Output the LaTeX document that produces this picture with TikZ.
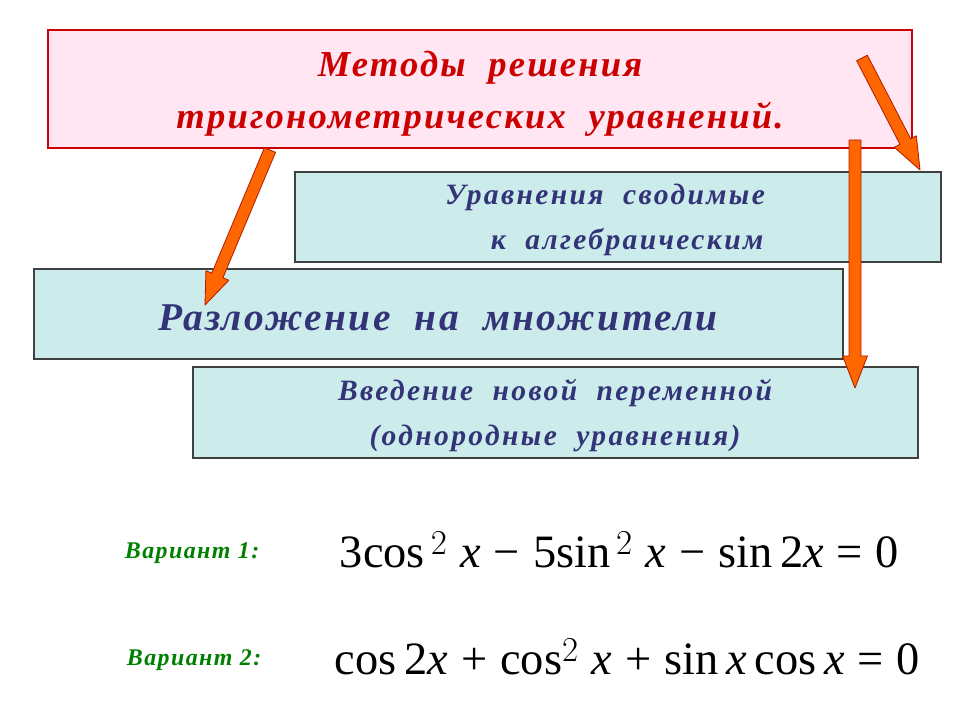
\documentclass[tikz,border=0pt]{standalone}
\usepackage{fontspec}
\setmainfont{Liberation Serif}
\usetikzlibrary{calc}
\definecolor{tred}{RGB}{204,0,0}
\definecolor{pinkf}{RGB}{255,230,242}
\definecolor{tealf}{RGB}{204,236,236}
\definecolor{bluet}{RGB}{51,51,120}
\definecolor{gr}{RGB}{0,128,0}
\definecolor{arr}{RGB}{255,102,0}
\definecolor{arrd}{RGB}{180,30,0}
\tikzset{
 box/.style={draw=#1,line width=0.8pt},
 ttl/.style={text=tred,font=\fontsize{26}{37}\selectfont\bfseries\itshape\addfontfeatures{LetterSpace=6},align=center},
 sub/.style={text=bluet,font=\fontsize{21}{32}\selectfont\bfseries\itshape\addfontfeatures{LetterSpace=8},align=center},
 var/.style={text=gr,font=\fontsize{17}{18}\selectfont\bfseries\itshape\addfontfeatures{LetterSpace=6},anchor=west},
 frm/.style={font=\fontsize{33}{36}\selectfont,anchor=west},
 barr/.style={fill=arr,draw=arrd,line width=0.6pt,line join=round}
}
\newcommand\blockarrow[2]{%
 \draw[barr] ($(#1)!0.15cm!90:(#2)$) -- ($($(#2)!0.8cm!(#1)$)!0.15cm!-90:(#1)$)
  -- ($($(#2)!0.8cm!(#1)$)!0.31cm!-90:(#1)$) -- (#2)
  -- ($($(#2)!0.8cm!(#1)$)!0.31cm!90:(#1)$)
  -- ($($(#2)!0.8cm!(#1)$)!0.15cm!90:(#1)$) -- ($(#1)!0.15cm!-90:(#2)$) -- cycle;}
\begin{document}
\begin{tikzpicture}[x=0.025cm,y=-0.025cm]
\fill[white] (0,0) rectangle (960,720);
\draw[box=tred,fill=pinkf] (48,30) rectangle (912,148);
\node[ttl] (t) at (480,94) {Методы\ \ решения\\тригонометрических\ \ уравнений.};
\draw[box=darkgray,fill=tealf] (295,172) rectangle (941,262);
\node[sub] (a) at (605,220) {Уравнения\ \ сводимые\\\hspace*{1.5em}к\ \ алгебраическим};
\draw[box=darkgray,fill=tealf] (34,269) rectangle (843,359);
\node[sub,font=\fontsize{28}{30}\selectfont\bfseries\itshape\addfontfeatures{LetterSpace=6}] (b) at (438,318) {Разложение\ \ на\ \ множители};
\draw[box=darkgray,fill=tealf] (193,367) rectangle (918,458);
\node[sub] (c) at (555,416) {Введение\ \ новой\ \ переменной\\(однородные\ \ уравнения)};
\coordinate (s1) at (270,150); \coordinate (e1) at (205,305);
\coordinate (s2) at (862,58); \coordinate (e2) at (920,170);
\coordinate (s3) at (855,140); \coordinate (e3) at (855,388);
\blockarrow{s1}{e1}
\blockarrow{s2}{e2}
\blockarrow{s3}{e3}
\node[var] (v1) at (120,553) {Вариант 1:};
\node[var] (v2) at (122,660) {Вариант 2:};
\node[frm] (f1) at (335,550) {3cos$^{\,2}$\;\textit{x}\;−\;5sin$^{\,2}$\;\textit{x}\;−\;sin\,2\textit{x}\;=\;0};
\node[frm] (f2) at (330,657) {cos\,2\textit{x}\;+\;cos$^{2}$\;\textit{x}\;+\;sin\,\textit{x}\,cos\,\textit{x}\;=\;0};
\end{tikzpicture}
\end{document}
